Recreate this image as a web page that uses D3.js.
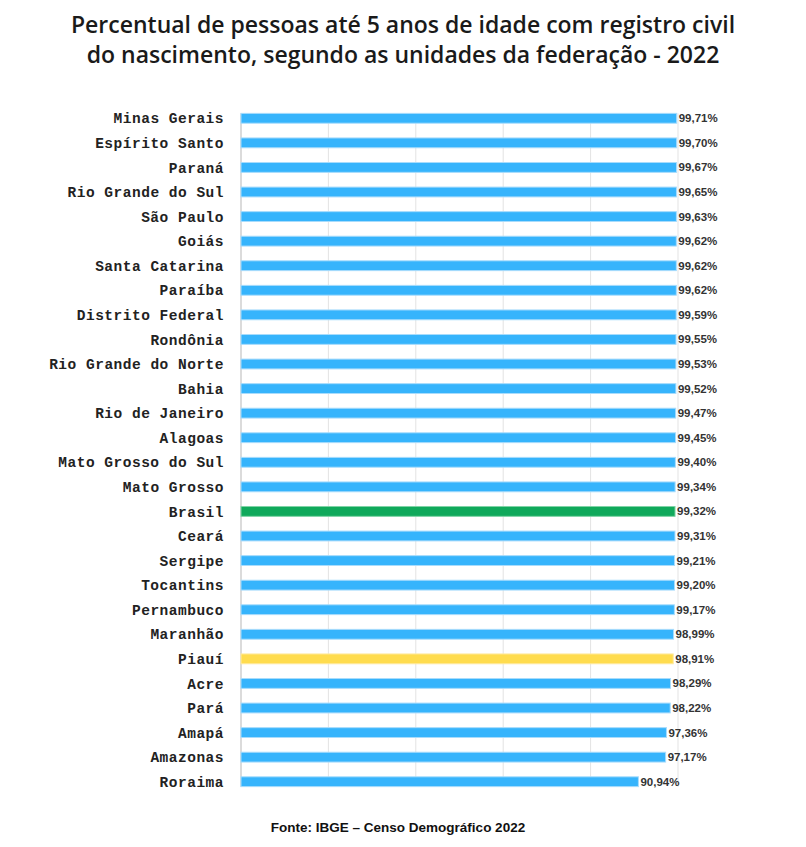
<!DOCTYPE html>
<html>
<head>
<meta charset="utf-8">
<script src="https://cdn.jsdelivr.net/npm/d3@7"></script>
<style>
  body { margin: 0; background: #fff; }
</style>
</head>
<body>
<div id="chart"></div>
<script>
// data
var states = ["Minas Gerais", "Espírito Santo", "Paraná", "Rio Grande do Sul", "São Paulo", "Goiás",
  "Santa Catarina", "Paraíba", "Distrito Federal", "Rondônia", "Rio Grande do Norte", "Bahia",
  "Rio de Janeiro", "Alagoas", "Mato Grosso do Sul", "Mato Grosso", "Brasil", "Ceará", "Sergipe",
  "Tocantins", "Pernambuco", "Maranhão", "Piauí", "Acre", "Pará", "Amapá", "Amazonas", "Roraima"];
var values = [99.71, 99.70, 99.67, 99.65, 99.63, 99.62, 99.62, 99.62, 99.59, 99.55, 99.53, 99.52,
  99.47, 99.45, 99.40, 99.34, 99.32, 99.31, 99.21, 99.20, 99.17, 98.99, 98.91, 98.29, 98.22,
  97.36, 97.17, 90.94];
var gridTicks = [0, 20, 40, 60, 80, 100];

var titleLines = ["Percentual de pessoas até 5 anos de idade com registro civil",
  "do nascimento, segundo as unidades da federação - 2022"];
var sourceText = "Fonte: IBGE – Censo Demográfico 2022";

var svgWidth = 806;
var svgHeight = 847;

var svg = d3.select("#chart")
  .append("svg")
  .attr("width", svgWidth)
  .attr("height", svgHeight);

var data = states.map(function(s, i) { return { name: s, value: values[i] }; });

// scales
var xScale = d3.scaleLinear()
  .domain([0, 100])
  .range([241, 678]);

var yScale = d3.scaleBand()
  .domain(states)
  .range([106, 794])
  .paddingInner(0.6)
  .paddingOuter(0.3);

var plotTop = yScale(states[0]);
var plotBottom = yScale(states[states.length - 1]) + yScale.bandwidth();

// vertical gridlines
svg.append("g")
  .selectAll("line")
  .data(gridTicks)
  .enter()
  .append("line")
  .attr("x1", d => xScale(d))
  .attr("x2", d => xScale(d))
  .attr("y1", plotTop)
  .attr("y2", plotBottom)
  .attr("stroke", d => d === 0 ? "#cfcfcf" : "#e3e3e3")
  .attr("stroke-width", d => d === 0 ? 1.5 : 1);

// bars
function barColor(d) {
  if (d.name === "Brasil") return "#10a95b";
  if (d.name === "Piauí") return "#ffdc4e";
  return "#36b4fc";
}
function barStroke(d) {
  if (d.name === "Brasil") return "#7fd3a6";
  if (d.name === "Piauí") return "#ffeaa0";
  return "#a8dcfc";
}

svg.append("g")
  .selectAll("rect")
  .data(data)
  .enter()
  .append("rect")
  .attr("x", xScale(0))
  .attr("y", d => yScale(d.name))
  .attr("width", d => xScale(d.value) - xScale(0))
  .attr("height", yScale.bandwidth())
  .attr("fill", barColor)
  .attr("stroke", barStroke)
  .attr("stroke-width", 1);

// category labels
svg.append("g")
  .selectAll("text")
  .data(data)
  .enter()
  .append("text")
  .attr("x", 224)
  .attr("y", d => yScale(d.name) + yScale.bandwidth() / 2)
  .attr("dy", "0.35em")
  .attr("text-anchor", "end")
  .attr("font-family", "'Liberation Mono', 'DejaVu Sans Mono', monospace")
  .attr("font-weight", "bold")
  .attr("font-size", "14.5px")
  .attr("letter-spacing", "0.5px")
  .attr("fill", "#222")
  .text(d => d.name);

// value labels
svg.append("g")
  .selectAll("text")
  .data(data)
  .enter()
  .append("text")
  .attr("x", d => xScale(d.value) + 2)
  .attr("y", d => yScale(d.name) + yScale.bandwidth() / 2)
  .attr("dy", "0.35em")
  .attr("font-family", "'Liberation Sans', Arial, sans-serif")
  .attr("font-weight", "bold")
  .attr("font-size", "11.5px")
  .attr("fill", "#333")
  .text(d => d3.format(".2f")(d.value).replace(".", ",") + "%");

// title
svg.append("g")
  .selectAll("text")
  .data(titleLines)
  .enter()
  .append("text")
  .attr("x", 403)
  .attr("y", (d, i) => 33 + i * 30)
  .attr("text-anchor", "middle")
  .attr("font-family", "'Open Sans', 'Noto Sans', sans-serif")
  .attr("font-weight", 600)
  .attr("font-size", "23px")
  .attr("fill", "#1a1a1a")
  .text(d => d);

// source
svg.append("text")
  .attr("x", 398)
  .attr("y", 832)
  .attr("text-anchor", "middle")
  .attr("font-family", "'Liberation Sans', Arial, sans-serif")
  .attr("font-weight", "bold")
  .attr("font-size", "13.5px")
  .attr("fill", "#111")
  .text(sourceText);
</script>
</body>
</html>
